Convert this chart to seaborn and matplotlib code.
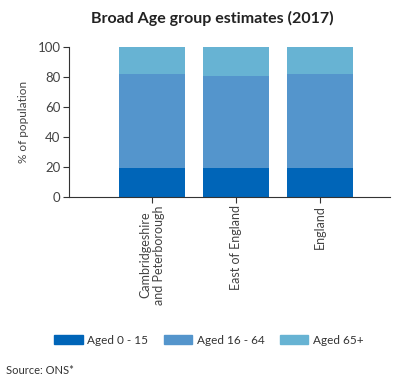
import matplotlib
matplotlib.use("Agg")
import matplotlib.pyplot as plt
import seaborn as sns
import pandas as pd
import numpy as np

areas = ["Cambridgeshire\nand Peterborough", "East of England", "England"]
aged_0_15 = [19.4, 19.3, 19.2]
aged_16_64 = [62.8, 61.1, 63.0]
aged_65_plus = [17.8, 19.6, 17.8]
series_names = ["Aged 0 - 15", "Aged 16 - 64", "Aged 65+"]
colors = ["#0065b8", "#5495cc", "#67b3d3"]

sns.set_theme(style="white")
plt.rcParams['font.family'] = ['Lato', 'DejaVu Sans']

fig = plt.figure(figsize=(3.93, 3.80), dpi=100)
ax = fig.add_axes([69/393, 1 - 197/380, (390-69)/393, 150/380])

df = pd.DataFrame({"area": areas, "a": aged_0_15, "b": aged_16_64, "c": aged_65_plus})
df["ab"] = df["a"] + df["b"]
df["abc"] = df["ab"] + df["c"]

bw = 0.79
sns.barplot(data=df, x="area", y="abc", color=colors[2], width=bw, ax=ax, saturation=1, linewidth=0)
sns.barplot(data=df, x="area", y="ab", color=colors[1], width=bw, ax=ax, saturation=1, linewidth=0)
sns.barplot(data=df, x="area", y="a", color=colors[0], width=bw, ax=ax, saturation=1, linewidth=0)

ax.set_xlim(-0.99, 2.83)
ax.set_ylim(0, 100)
ax.set_yticks([0, 20, 40, 60, 80, 100])
ax.set_xlabel("")
ax.set_ylabel("% of population", fontsize=8.5, color="#444444", labelpad=6)
for s in ["top", "right"]:
    ax.spines[s].set_visible(False)
for s in ["left", "bottom"]:
    ax.spines[s].set_color("#333333")
    ax.spines[s].set_linewidth(0.8)
ax.tick_params(axis="y", left=True, length=4, width=0.8, color="#333333", labelsize=9.5, labelcolor="#444444", pad=2)
ax.tick_params(axis="x", bottom=True, length=4, width=0.8, color="#333333", labelsize=9, labelcolor="#444444", pad=2)
ax.set_xticks(range(len(areas)))
ax.set_xticklabels(areas, rotation=90, va="top", ha="center", multialignment="center")

fig.text(212/393, 1 - 18/380, "Broad Age group estimates (2017)", ha="center", va="center",
         fontsize=11.5, fontweight="bold", color="#222222")

handles = [matplotlib.patches.Patch(color=c) for c in colors]
fig.legend(handles, series_names, loc="center", bbox_to_anchor=(209/393, 1 - 340/380), ncol=3,
           frameon=False, fontsize=8.5, handlelength=2.4, handleheight=0.9, columnspacing=1.3,
           handletextpad=0.4, labelcolor="#333333")

fig.text(6/393, 1 - 370/380, "Source: ONS*", ha="left", va="center", fontsize=8, color="#333333")

fig.savefig("out.png", dpi=100)
